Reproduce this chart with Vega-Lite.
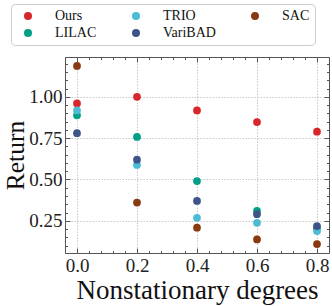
{
  "$schema": "https://vega.github.io/schema/vega-lite/v6.json",
  "width": 264,
  "height": 196,
  "autosize": {"type": "none"},
  "padding": {"left": 65, "top": 57, "right": 3, "bottom": 53},
  "background": "white",
  "config": {
    "view": {"stroke": "#555", "strokeWidth": 1},
    "font": "Liberation Serif",
    "axis": {"labelFont": "Liberation Serif", "titleFont": "Liberation Serif", "labelColor": "#222", "titleColor": "#111", "titleFontWeight": "normal"},
    "legend": {"labelFont": "Liberation Serif"}
  },
  "data": {
    "values": [
      {"method": "Ours", "degree": 0.0, "ret": 0.96},
      {"method": "Ours", "degree": 0.2, "ret": 1.0},
      {"method": "Ours", "degree": 0.4, "ret": 0.918},
      {"method": "Ours", "degree": 0.6, "ret": 0.847},
      {"method": "Ours", "degree": 0.8, "ret": 0.789},
      {"method": "LILAC", "degree": 0.0, "ret": 0.888},
      {"method": "LILAC", "degree": 0.2, "ret": 0.757},
      {"method": "LILAC", "degree": 0.4, "ret": 0.49},
      {"method": "LILAC", "degree": 0.6, "ret": 0.31},
      {"method": "LILAC", "degree": 0.8, "ret": 0.205},
      {"method": "TRIO", "degree": 0.0, "ret": 0.918},
      {"method": "TRIO", "degree": 0.2, "ret": 0.588},
      {"method": "TRIO", "degree": 0.4, "ret": 0.268},
      {"method": "TRIO", "degree": 0.6, "ret": 0.238},
      {"method": "TRIO", "degree": 0.8, "ret": 0.188},
      {"method": "VariBAD", "degree": 0.0, "ret": 0.78},
      {"method": "VariBAD", "degree": 0.2, "ret": 0.62},
      {"method": "VariBAD", "degree": 0.4, "ret": 0.37},
      {"method": "VariBAD", "degree": 0.6, "ret": 0.29},
      {"method": "VariBAD", "degree": 0.8, "ret": 0.218},
      {"method": "SAC", "degree": 0.0, "ret": 1.187},
      {"method": "SAC", "degree": 0.2, "ret": 0.36},
      {"method": "SAC", "degree": 0.4, "ret": 0.208},
      {"method": "SAC", "degree": 0.6, "ret": 0.137},
      {"method": "SAC", "degree": 0.8, "ret": 0.109}
    ]
  },
  "resolve": {"axis": {"x": "independent", "y": "independent"}},
  "layer": [
    {
      "mark": {"type": "point", "filled": true, "opacity": 1, "size": 60},
      "encoding": {
        "x": {"field": "degree", "type": "quantitative", "scale": {"domain": [-0.04, 0.84], "nice": false, "zero": false},
          "axis": {"orient": "bottom", "title": "Nonstationary degrees", "values": [0, 0.2, 0.4, 0.6, 0.8], "format": ".1f", "ticks": false, "domain": false, "labelFontSize": 19, "labelPadding": 3, "titleFontSize": 27, "titlePadding": 2, "grid": true, "gridColor": "#bbb", "gridDash": [1.5, 1.5], "gridWidth": 0.8}},
        "y": {"field": "ret", "type": "quantitative", "scale": {"domain": [0.055, 1.241], "nice": false, "zero": false},
          "axis": {"orient": "left", "title": "Return", "values": [0.25, 0.5, 0.75, 1.0], "format": ".2f", "ticks": false, "domain": false, "labelFontSize": 19, "labelPadding": 3, "titleFontSize": 25.5, "titleX": -42, "titleBaseline": "alphabetic", "grid": true, "gridColor": "#bbb", "gridDash": [1.5, 1.5], "gridWidth": 0.8}},
        "color": {"field": "method", "type": "nominal",
          "scale": {"domain": ["Ours", "LILAC", "TRIO", "VariBAD", "SAC"], "range": ["#d9262b", "#00a087", "#4cbcd6", "#3c5488", "#883a10"]},
          "legend": {"orient": "none", "legendX": -54, "legendY": -53, "columns": 3, "gridAlign": "each", "title": null, "labelFontSize": 14, "symbolSize": 64, "symbolType": "circle", "labelOffset": 20, "columnPadding": 27, "rowPadding": 3, "padding": 5, "strokeColor": "#ccc", "fillColor": "white", "cornerRadius": 4, "labelColor": "#111", "symbolOffset": 5}}
      }
    },
    {
      "mark": {"type": "point", "opacity": 0},
      "encoding": {
        "x": {"field": "degree", "type": "quantitative", "axis": {"orient": "bottom", "title": null, "labels": false, "domain": false, "grid": false,
          "values": [-0.04, 0, 0.04, 0.08, 0.12, 0.16, 0.2, 0.24, 0.28, 0.32, 0.36, 0.4, 0.44, 0.48, 0.52, 0.56, 0.6, 0.64, 0.68, 0.72, 0.76, 0.8, 0.84],
          "tickColor": "#555", "tickWidth": 1, "tickSize": {"condition": {"test": "abs(datum.value*5 - round(datum.value*5)) < 0.001", "value": -5}, "value": -2.5}}},
        "y": {"field": "ret", "type": "quantitative", "axis": {"orient": "left", "title": null, "labels": false, "domain": false, "grid": false,
          "values": [0.1, 0.15, 0.2, 0.25, 0.3, 0.35, 0.4, 0.45, 0.5, 0.55, 0.6, 0.65, 0.7, 0.75, 0.8, 0.85, 0.9, 0.95, 1.0, 1.05, 1.1, 1.15, 1.2],
          "tickColor": "#555", "tickWidth": 1, "tickSize": {"condition": {"test": "abs(datum.value*4 - round(datum.value*4)) < 0.001", "value": -5}, "value": -2.5}}}
      }
    },
    {
      "mark": {"type": "point", "opacity": 0},
      "encoding": {
        "x": {"field": "degree", "type": "quantitative", "axis": {"orient": "top", "title": null, "labels": false, "domain": false, "grid": false,
          "values": [-0.04, 0, 0.04, 0.08, 0.12, 0.16, 0.2, 0.24, 0.28, 0.32, 0.36, 0.4, 0.44, 0.48, 0.52, 0.56, 0.6, 0.64, 0.68, 0.72, 0.76, 0.8, 0.84],
          "tickColor": "#555", "tickWidth": 1, "tickSize": {"condition": {"test": "abs(datum.value*5 - round(datum.value*5)) < 0.001", "value": -5}, "value": -2.5}}},
        "y": {"field": "ret", "type": "quantitative", "axis": {"orient": "right", "title": null, "labels": false, "domain": false, "grid": false,
          "values": [0.1, 0.15, 0.2, 0.25, 0.3, 0.35, 0.4, 0.45, 0.5, 0.55, 0.6, 0.65, 0.7, 0.75, 0.8, 0.85, 0.9, 0.95, 1.0, 1.05, 1.1, 1.15, 1.2],
          "tickColor": "#555", "tickWidth": 1, "tickSize": {"condition": {"test": "abs(datum.value*4 - round(datum.value*4)) < 0.001", "value": -5}, "value": -2.5}}}
      }
    }
  ]
}
